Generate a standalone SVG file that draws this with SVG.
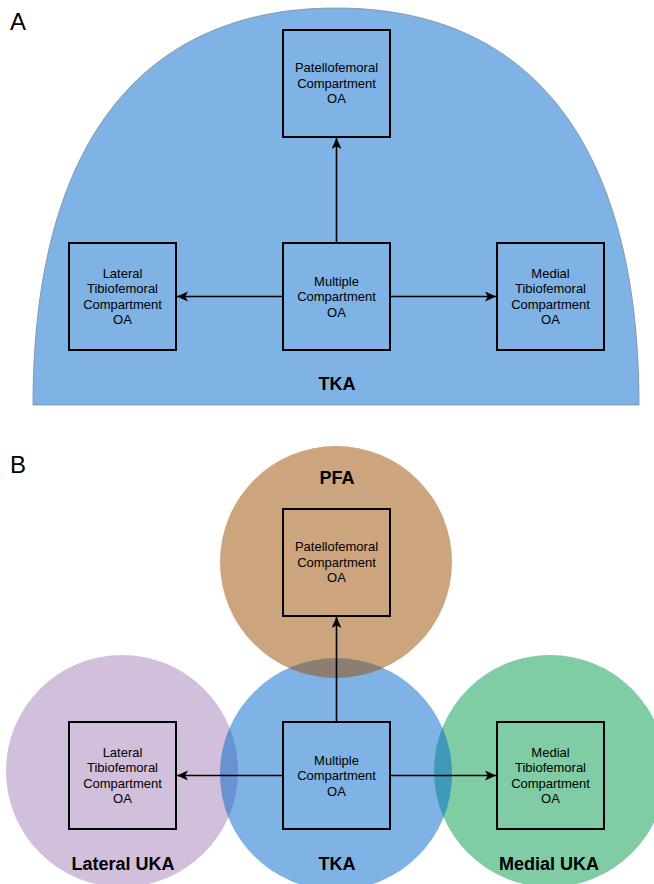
<svg xmlns="http://www.w3.org/2000/svg" width="654" height="884" viewBox="0 0 654 884">
<style>
.box{fill:none;stroke:#000;stroke-width:2}
.t{font-family:"Liberation Sans",Arial,sans-serif;font-size:13px;fill:#000;text-anchor:middle}
.lbl{font-family:"Liberation Sans",Arial,sans-serif;font-size:18px;font-weight:bold;fill:#000;text-anchor:middle}
.panel{font-family:"Liberation Sans",Arial,sans-serif;font-size:24px;fill:#000}
.edge{stroke:#000;stroke-width:1.6;fill:none;marker-end:url(#arr)}
</style>
<defs>
<marker id="arr" markerUnits="userSpaceOnUse" markerWidth="12" markerHeight="11" refX="11" refY="5" orient="auto">
<path d="M0,0 L11,5 L0,10 L2.8,5 Z" fill="#000"/>
</marker>
</defs>
<rect width="654" height="884" fill="#fff"/>

<!-- Panel A -->
<text class="panel" x="10" y="30">A</text>
<g id="a-tka">
<path d="M33,405 C33,147 139,8 336,8 C533,8 639,147 639,405 Z" fill="#0066CC" fill-opacity="0.5" stroke="#7a8a9a" stroke-width="0.8"/>
<text class="lbl" x="337" y="389.5">TKA</text>
</g>
<g id="a-patello">
<rect class="box" x="283" y="30" width="107" height="107"/>
<text class="t" x="336.5" y="72">Patellofemoral</text>
<text class="t" x="336.5" y="87.5">Compartment</text>
<text class="t" x="336.5" y="103">OA</text>
</g>
<g id="a-multiple">
<rect class="box" x="283" y="243" width="107" height="107"/>
<text class="t" x="336.5" y="285.5">Multiple</text>
<text class="t" x="336.5" y="301">Compartment</text>
<text class="t" x="336.5" y="316.5">OA</text>
</g>
<g id="a-lateral">
<rect class="box" x="69" y="243" width="107" height="107"/>
<text class="t" x="122.5" y="277.5">Lateral</text>
<text class="t" x="122.5" y="293">Tibiofemoral</text>
<text class="t" x="122.5" y="308.7">Compartment</text>
<text class="t" x="122.5" y="324.3">OA</text>
</g>
<g id="a-medial">
<rect class="box" x="497" y="243" width="107" height="107"/>
<text class="t" x="550.5" y="277.5">Medial</text>
<text class="t" x="550.5" y="293">Tibiofemoral</text>
<text class="t" x="550.5" y="308.7">Compartment</text>
<text class="t" x="550.5" y="324.3">OA</text>
</g>
<g id="a-connectors">
<line class="edge" x1="336.5" y1="243" x2="336.5" y2="138"/>
<line class="edge" x1="283" y1="296.5" x2="177" y2="296.5"/>
<line class="edge" x1="390" y1="296.5" x2="496" y2="296.5"/>
</g>

<!-- Panel B -->
<text class="panel" x="10" y="473">B</text>
<g id="b-lateral-uka">
<circle cx="122" cy="771" r="116" fill="#A680B8" fill-opacity="0.5"/>
</g>
<g id="b-medial-uka">
<circle cx="550" cy="771" r="116" fill="#00994C" fill-opacity="0.5"/>
</g>
<g id="b-tka">
<circle cx="336" cy="774" r="116" fill="#0066CC" fill-opacity="0.5"/>
</g>
<g id="b-pfa">
<circle cx="336" cy="562" r="116" fill="#994C00" fill-opacity="0.5"/>
</g>
<text class="lbl" x="337" y="483.5">PFA</text>
<text class="lbl" x="123" y="869.5">Lateral UKA</text>
<text class="lbl" x="337" y="869.5">TKA</text>
<text class="lbl" x="549" y="869.5">Medial UKA</text>

<g id="b-patello">
<rect class="box" x="283" y="509" width="107" height="107"/>
<text class="t" x="336.5" y="551">Patellofemoral</text>
<text class="t" x="336.5" y="566.5">Compartment</text>
<text class="t" x="336.5" y="582">OA</text>
</g>
<g id="b-multiple">
<rect class="box" x="283" y="722" width="107" height="107"/>
<text class="t" x="336.5" y="764.5">Multiple</text>
<text class="t" x="336.5" y="780">Compartment</text>
<text class="t" x="336.5" y="795.5">OA</text>
</g>
<g id="b-lateral">
<rect class="box" x="69" y="722" width="107" height="107"/>
<text class="t" x="122.5" y="756.5">Lateral</text>
<text class="t" x="122.5" y="772">Tibiofemoral</text>
<text class="t" x="122.5" y="787.7">Compartment</text>
<text class="t" x="122.5" y="803.3">OA</text>
</g>
<g id="b-medial">
<rect class="box" x="497" y="722" width="107" height="107"/>
<text class="t" x="550.5" y="756.5">Medial</text>
<text class="t" x="550.5" y="772">Tibiofemoral</text>
<text class="t" x="550.5" y="787.7">Compartment</text>
<text class="t" x="550.5" y="803.3">OA</text>
</g>
<g id="b-connectors">
<line class="edge" x1="336.5" y1="722" x2="336.5" y2="617"/>
<line class="edge" x1="283" y1="775.5" x2="177" y2="775.5"/>
<line class="edge" x1="390" y1="775.5" x2="496" y2="775.5"/>
</g>
</svg>
